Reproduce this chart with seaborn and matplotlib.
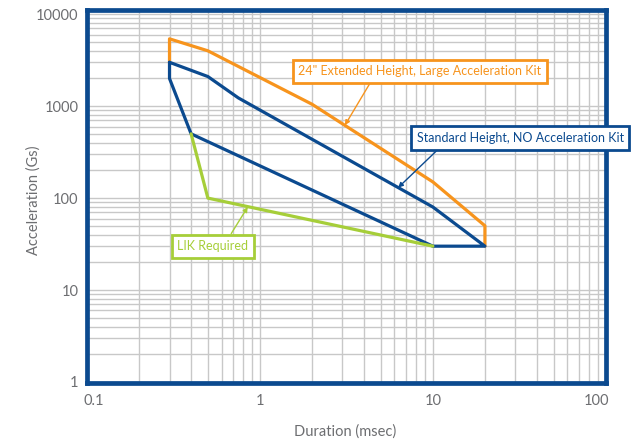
import matplotlib
matplotlib.use("Agg")
import matplotlib.pyplot as plt
import matplotlib.ticker as mticker
import matplotlib.transforms as mtransforms
import seaborn as sns

# envelope outlines (duration in msec, acceleration in Gs)
orange_x = [0.3, 0.3, 0.5, 2, 10, 20, 20]
orange_y = [3000, 5400, 4000, 1050, 150, 50, 30]

blue_x = [0.3, 0.5, 0.75, 10, 20, 10, 0.4, 0.3, 0.3]
blue_y = [3000, 2100, 1230, 80, 30, 30, 500, 2000, 3000]

green_x = [0.4, 0.5, 10]
green_y = [500, 100, 30]

x_ticks = [0.1, 1, 10, 100]
x_labels = ["0.1", "1", "10", "100"]
y_ticks = [1, 10, 100, 1000, 10000]
y_labels = ["1", "10", "100", "1000", "10000"]

ORANGE = "#f7941d"
BLUE = "#0b4a8f"
GREEN = "#a6ce39"
GRAY = "#6d6e71"

sns.set_theme(style="white")
plt.rcParams["font.family"] = ["Lato", "DejaVu Sans"]

fig = plt.figure(figsize=(6.35, 4.41), dpi=100)
ax = fig.add_axes([0.137, 0.132, 0.817, 0.846])

sns.lineplot(x=orange_x, y=orange_y, sort=False, estimator=None, ax=ax,
             color=ORANGE, linewidth=2.3, zorder=4)
sns.lineplot(x=blue_x, y=blue_y, sort=False, estimator=None, ax=ax,
             color=BLUE, linewidth=2.3, zorder=4)
sns.lineplot(x=green_x, y=green_y, sort=False, estimator=None, ax=ax,
             color=GREEN, linewidth=2.3, zorder=4)

ax.set_xscale("log")
ax.set_yscale("log")
ax.set_xlim(0.1, 100)
ax.set_ylim(0.98, 11200)

ax.xaxis.set_major_locator(mticker.FixedLocator(x_ticks))
ax.xaxis.set_major_formatter(mticker.FixedFormatter(x_labels))
ax.yaxis.set_major_locator(mticker.FixedLocator(y_ticks))
ax.yaxis.set_major_formatter(mticker.FixedFormatter(y_labels))
ax.xaxis.set_minor_locator(mticker.LogLocator(base=10, subs=range(2, 10)))
ax.yaxis.set_minor_locator(mticker.LogLocator(base=10, subs=range(2, 10)))
ax.xaxis.set_minor_formatter(mticker.NullFormatter())
ax.yaxis.set_minor_formatter(mticker.NullFormatter())

ax.grid(True, which="both", color="#c8c8c8", linewidth=1.0)
ax.set_axisbelow(True)
ax.tick_params(which="both", length=0, labelsize=10.5, labelcolor=GRAY)
ax.tick_params(axis="x", pad=8)
ax.tick_params(axis="y", pad=6)

# end labels sit inside the frame edges
fig.canvas.draw()
xl = ax.get_xticklabels()
xl[0].set_ha("left")
xl[0].set_transform(xl[0].get_transform() + mtransforms.ScaledTranslation(-3 / 100, 0, fig.dpi_scale_trans))
xl[-1].set_ha("right")
xl[-1].set_transform(xl[-1].get_transform() + mtransforms.ScaledTranslation(3 / 100, 0, fig.dpi_scale_trans))

for sp in ax.spines.values():
    sp.set_color(BLUE)
    sp.set_linewidth(3.4)
    sp.set_zorder(5)

ax.set_xlabel("Duration (msec)", fontsize=10.5, color=GRAY)
ax.set_ylabel("Acceleration (Gs)", fontsize=10.5, color=GRAY)
ax.xaxis.set_label_coords(0.498, -0.112)
ax.yaxis.set_label_coords(-0.09, 0.49)

# callout boxes
notes = [
    ("24\" Extended Height, Large Acceleration Kit", (3.1, 620), (8.4, 2400), ORANGE, (0.31, 0)),
    ("Standard Height, NO Acceleration Kit", (6.3, 130), (32, 450), BLUE, (0.13, 0)),
    ("LIK Required", (0.85, 80), (0.535, 30), GREEN, (0.70, 1)),
]
for txt, tip, box, col, rp in notes:
    ax.annotate(txt, xy=tip, xytext=box, textcoords="data",
                ha="center", va="center", fontsize=9, color=col,
                bbox=dict(boxstyle="square,pad=0.45", fc="white", ec=col, lw=2),
                arrowprops=dict(arrowstyle="-|>", color=col, lw=1.0, relpos=rp,
                                shrinkA=0, shrinkB=0, mutation_scale=7),
                annotation_clip=False, zorder=10)

plt.savefig("out.png", dpi=100)
plt.close()
